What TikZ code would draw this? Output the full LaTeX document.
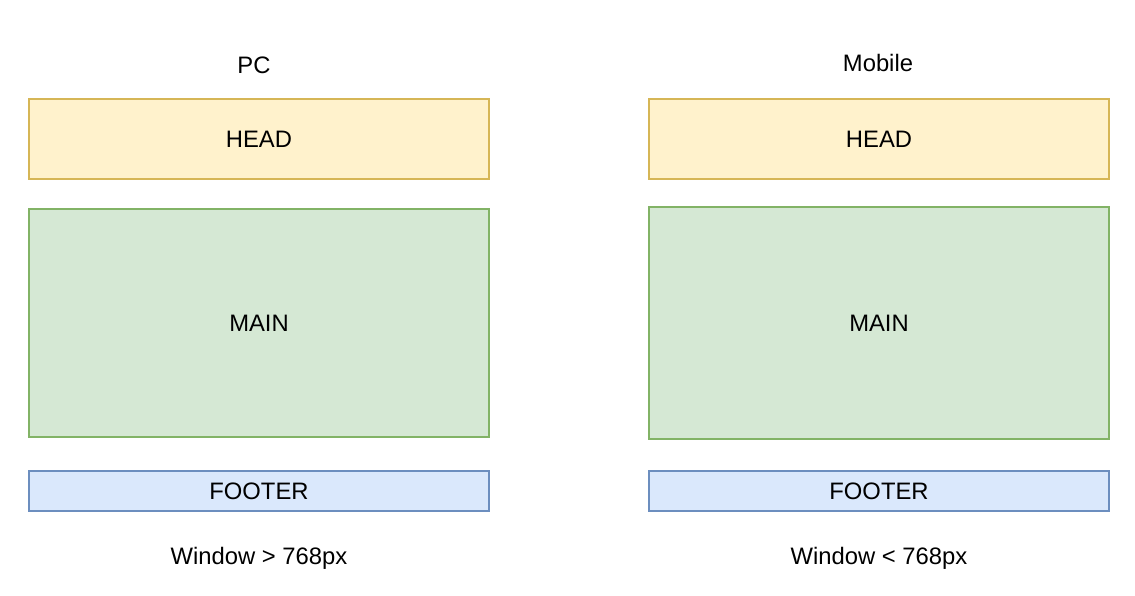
\documentclass[tikz,border=0pt]{standalone}
\usepackage{fontspec}
\setmainfont{Liberation Sans}
\definecolor{headfill}{HTML}{FFF2CC}
\definecolor{headdraw}{HTML}{D6B656}
\definecolor{mainfill}{HTML}{D5E8D4}
\definecolor{maindraw}{HTML}{82B366}
\definecolor{footfill}{HTML}{DAE8FC}
\definecolor{footdraw}{HTML}{6C8EBF}
\begin{document}
\begin{tikzpicture}[x=1pt,y=-1pt,
  every node/.style={font=\fontsize{23.8}{28}\selectfont, inner sep=0pt},
  box/.style={draw, line width=2pt, minimum width=460pt, anchor=north west, outer sep=0pt},
  headbox/.style={box, fill=headfill, draw=headdraw, minimum height=80pt},
  mainbox/.style={box, fill=mainfill, draw=maindraw},
  footbox/.style={box, fill=footfill, draw=footdraw, minimum height=40pt}]
\useasboundingbox (0,0) rectangle (1135,595);
\node[headbox] (pchead) at (29,99) {HEAD};
\node[mainbox, minimum height=228pt] (pcmain) at (29,209) {MAIN};
\node[footbox] (pcfoot) at (29,471) {FOOTER};
\node[headbox] (mhead) at (649,99) {HEAD};
\node[mainbox, minimum height=232pt] (mmain) at (649,207) {MAIN};
\node[footbox] (mfoot) at (649,471) {FOOTER};
\node (pc) at (254,65) {PC};
\node (mob) at (878,63) {Mobile};
\node (pcw) at (259,558) {Window > 768px};
\node (mw) at (879,558) {Window < 768px};
\end{tikzpicture}
\end{document}
